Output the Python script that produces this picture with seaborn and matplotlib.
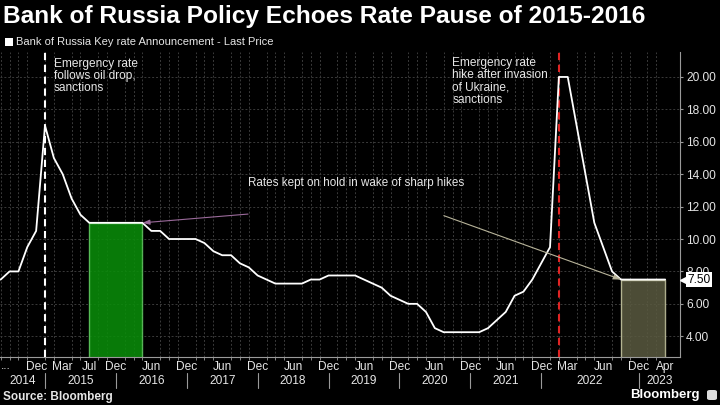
import matplotlib
matplotlib.use("Agg")
import matplotlib.pyplot as plt
import seaborn as sns
import pandas as pd
import numpy as np
from matplotlib.transforms import blended_transform_factory
from matplotlib.patches import FancyBboxPatch, Rectangle

# ---------------- data ----------------
dates = ["2014-04-25", "2014-06-16", "2014-07-25", "2014-09-12", "2014-10-31", "2014-12-11", "2014-12-16",
         "2015-01-30", "2015-03-13", "2015-04-30", "2015-06-15", "2015-07-31", "2015-09-11", "2015-10-30", "2015-12-11",
         "2016-01-29", "2016-03-18", "2016-04-29", "2016-06-10", "2016-07-29", "2016-09-16", "2016-10-28", "2016-12-16",
         "2017-02-03", "2017-03-24", "2017-04-28", "2017-06-16", "2017-07-28", "2017-09-15", "2017-10-27", "2017-12-15",
         "2018-02-09", "2018-03-23", "2018-04-27", "2018-06-15", "2018-07-27", "2018-09-14", "2018-10-26", "2018-12-14",
         "2019-02-08", "2019-03-22", "2019-04-26", "2019-06-14", "2019-07-26", "2019-09-06", "2019-10-25", "2019-12-13",
         "2020-02-07", "2020-03-20", "2020-04-24", "2020-06-19", "2020-07-24", "2020-09-18", "2020-10-23", "2020-12-18",
         "2021-02-12", "2021-03-19", "2021-04-23", "2021-06-11", "2021-07-23", "2021-09-10", "2021-10-22", "2021-12-17",
         "2022-02-11", "2022-02-28", "2022-03-18", "2022-04-08", "2022-04-29", "2022-05-26", "2022-06-10", "2022-07-22",
         "2022-09-16", "2022-10-28", "2022-12-16",
         "2023-02-10", "2023-03-17", "2023-04-28"]
rates = [7.5, 7.5, 8.0, 8.0, 9.5, 10.5, 17.0,
         15.0, 14.0, 12.5, 11.5, 11.0, 11.0, 11.0, 11.0,
         11.0, 11.0, 11.0, 10.5, 10.5, 10.0, 10.0, 10.0,
         10.0, 9.75, 9.25, 9.0, 9.0, 8.5, 8.25, 7.75,
         7.5, 7.25, 7.25, 7.25, 7.25, 7.5, 7.5, 7.75,
         7.75, 7.75, 7.75, 7.5, 7.25, 7.0, 6.5, 6.25,
         6.0, 6.0, 5.5, 4.5, 4.25, 4.25, 4.25, 4.25,
         4.25, 4.5, 5.0, 5.5, 6.5, 6.75, 7.5, 8.5,
         9.5, 20.0, 20.0, 17.0, 14.0, 11.0, 9.5, 8.0,
         7.5, 7.5, 7.5,
         7.5, 7.5, 7.5]

month_tick_dates = ["2014-12-11", "2015-03-13", "2015-07-31", "2015-12-11", "2016-06-10", "2016-12-16",
                    "2017-06-16", "2017-12-15", "2018-06-15", "2018-12-14", "2019-06-14", "2019-12-13",
                    "2020-06-19", "2020-12-18", "2021-06-11", "2021-12-17", "2022-03-18", "2022-06-10",
                    "2022-12-16", "2023-04-28"]
month_tick_labels = ["Dec", "Mar", "Jul", "Dec", "Jun", "Dec", "Jun", "Dec", "Jun", "Dec", "Jun", "Dec",
                     "Jun", "Dec", "Jun", "Dec", "Mar", "Jun", "Dec", "Apr"]
year_labels = ["2014", "2015", "2016", "2017", "2018", "2019", "2020", "2021", "2022", "2023"]
y_ticks = [4, 6, 8, 10, 12, 14, 16, 18, 20]

hold_2015 = ("2015-07-31", "2016-04-29")
hold_2022 = ("2022-09-16", "2023-04-28")
shock_2014 = "2014-12-16"
shock_2022 = "2022-02-28"

title = "Bank of Russia Policy Echoes Rate Pause of 2015-2016"
legend_label = "Bank of Russia Key rate Announcement - Last Price"
note_2014 = "Emergency rate\nfollows oil drop,\nsanctions"
note_2022 = "Emergency rate\nhike after invasion\nof Ukraine,\nsanctions"
note_hold = "Rates kept on hold in wake of sharp hikes"

# ---------------- style ----------------
sns.set_theme(style="dark")
BG = "black"
TXT = "#e6e6e6"
GRID = "#3a3a3a"
AXC = "#9a9a9a"
plt.rcParams["font.family"] = ["Liberation Sans", "DejaVu Sans"]

df = pd.DataFrame({"date": dates, "rate": rates})
df["idx"] = np.arange(len(df))
pos = {d: i for i, d in enumerate(dates)}

fig = plt.figure(figsize=(7.2, 4.05), dpi=100, facecolor=BG)
ax = fig.add_axes([0.0, 48 / 405, 680 / 720, 305 / 405])
ax.set_facecolor(BG)

YLO, YHI = 2.72, 21.54
XLO, XHI = 0.921, 77.67

# main line
sns.lineplot(data=df, x="idx", y="rate", ax=ax, color="white", lw=1.3, zorder=4)
ax.set_xlabel("")
ax.set_ylabel("")

# grid
ax.set_xticks(df["idx"], minor=True)
ax.grid(which="minor", axis="x", color=GRID, lw=0.7, ls=(0, (2, 2)))
ax.set_yticks(y_ticks)
ax.grid(which="major", axis="y", color=GRID, lw=0.7, ls=(0, (2, 2)))
ax.grid(which="major", axis="x", visible=False)

# x axis month labels
tick_pos = [pos[d] for d in month_tick_dates]
ax.set_xticks(tick_pos)
ax.set_xticklabels(month_tick_labels)

ax.set_xlim(XLO, XHI)
ax.set_ylim(YLO, YHI)

# hold rectangles
for (d0, d1), fc, ec, al in [(hold_2015, "#0a8c0a", "#5fc45f", 0.88),
                             (hold_2022, "#5a5a40", "#c0c09c", 0.85)]:
    i0, i1 = pos[d0], pos[d1]
    ax.fill_between([i0, i1], YLO, [rates[i0], rates[i1]], color=fc, alpha=al, lw=0, zorder=2)
    ax.plot([i0, i0, i1, i1], [YLO, rates[i0], rates[i1], YLO], color=ec, lw=1.0, zorder=2.1, alpha=0.9)

# shock lines
ax.axvline(pos[shock_2014], color="white", lw=1.5, ls=(0, (3.5, 2.2)), zorder=3)
ax.axvline(pos[shock_2022], color="#e02424", lw=1.5, ls=(0, (3.5, 2.2)), zorder=3)

# spines
for s in ["left", "top"]:
    ax.spines[s].set_visible(False)
for s in ["right", "bottom"]:
    ax.spines[s].set_visible(True)
    ax.spines[s].set_color(AXC)
    ax.spines[s].set_linewidth(0.8)

# y axis right
ax.yaxis.tick_right()
ax.set_yticklabels([f"{v:.2f}" for v in y_ticks])
ax.tick_params(axis="y", which="major", direction="out", length=2.5, width=0.8, color=AXC,
               pad=2.0, labelsize=8.6, labelcolor=TXT, left=False, right=True)

ax.tick_params(axis="x", which="major", length=0, pad=3.0, labelsize=8.6, labelcolor=TXT, bottom=True)
ax.tick_params(axis="x", which="minor", direction="out", length=2.5, width=0.6, color=AXC, bottom=True)

trans_xa = blended_transform_factory(ax.transData, ax.transAxes)
trans_ax_y = blended_transform_factory(ax.transAxes, ax.transData)
ax.text(XLO + 0.1, -12 / 305, "...", transform=trans_xa, ha="left", va="baseline",
        fontsize=8.6, color=TXT)

# year separators and labels
years_int = [int(d[:4]) for d in dates]
seps = [max(i for i, y in enumerate(years_int) if y == yr) for yr in range(2014, 2023)]
bounds = [XLO] + seps + [XHI]
for s in seps:
    ax.plot([s, s], [-0.052, -0.102], transform=trans_xa, color=AXC, lw=0.8, clip_on=False)
for k, lab in enumerate(year_labels):
    ax.text((bounds[k] + bounds[k + 1]) / 2, -0.079, lab, transform=trans_xa, ha="center",
            va="center", fontsize=8.6, color=TXT)

# last value tag
last = rates[-1]
ax.plot([1.0 + 4.5 / 680], [last], transform=trans_ax_y, marker="<", ms=7, color="white",
        mec="white", clip_on=False, zorder=10)
ax.text(1.0 + 7 / 680, last, f"{last:.2f}", transform=trans_ax_y, ha="left", va="center",
        fontsize=8.6, color="black", zorder=11, clip_on=False,
        bbox=dict(boxstyle="square,pad=0.12", fc="white", ec="none"))

# annotations
ax.text(54 / 680, (357 - 58) / 305, note_2014, transform=ax.transAxes, ha="left", va="top",
        fontsize=8.6, color=TXT, linespacing=1.0, zorder=6)
ax.text(452.5 / 680, (357 - 57) / 305, note_2022, transform=ax.transAxes, ha="left", va="top",
        fontsize=8.6, color=TXT, linespacing=1.05, zorder=6)
ax.text(248 / 680, (357 - 183) / 305, note_hold, transform=ax.transAxes, ha="left", va="center",
        fontsize=8.4, color=TXT, zorder=6)

i_end15 = pos[hold_2015[1]]
ax.annotate("", xy=(i_end15, rates[i_end15]), xytext=(76, 6.3), textcoords="offset points",
            arrowprops=dict(arrowstyle="-|>,head_length=0.35,head_width=0.12", color="#9a6a9a", lw=0.8,
                            shrinkA=0, shrinkB=0), zorder=6)
i_st22 = pos[hold_2022[0]]
ax.annotate("", xy=(i_st22, rates[i_st22]), xytext=(-127.5, 46), textcoords="offset points",
            arrowprops=dict(arrowstyle="-|>,head_length=0.35,head_width=0.12", color="#b8b49a", lw=0.8,
                            shrinkA=0, shrinkB=0), zorder=6)

# titles
t = fig.text(3 / 720, 1 - 22.5 / 405, title, ha="left", va="baseline", fontsize=18,
             fontweight="bold", color="white",
             family=["Liberation Sans Narrow", "Liberation Sans", "DejaVu Sans"])
fig.canvas.draw()
w = t.get_window_extent(fig.canvas.get_renderer()).width
t.set_fontsize(18 * 642 / w)

fig.patches.append(Rectangle((5 / 720, 1 - 46 / 405), 8 / 720, 8 / 405,
                             transform=fig.transFigure, fc="white", ec="none"))
fig.text(16 / 720, 1 - 42 / 405, legend_label, ha="left", va="center", fontsize=8.0, color=TXT)

fig.text(3 / 720, 1 - 397 / 405, "Source: Bloomberg", ha="left", va="center", fontsize=8.5,
         fontweight="bold", color=TXT)
fig.text(700 / 720, 1 - 395 / 405, "Bloomberg", ha="right", va="center", fontsize=9.5,
         fontweight="bold", color="white")
fig.patches.append(FancyBboxPatch((707 / 720, 1 - 400 / 405), 10 / 720, 10 / 405,
                                  boxstyle="round,pad=0.0,rounding_size=0.004",
                                  transform=fig.transFigure, fc="#dcdcdc", ec="none"))

fig.savefig("out.png", dpi=100, facecolor=BG)
